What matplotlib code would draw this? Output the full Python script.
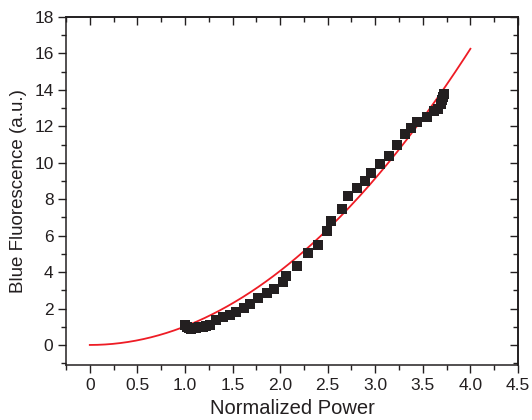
import numpy as np
import matplotlib
matplotlib.use("Agg")
import matplotlib.pyplot as plt
from matplotlib.ticker import MultipleLocator

plt.rcParams['font.family'] = ['Liberation Sans', 'DejaVu Sans']

# measured data
power = [1.00, 1.02, 1.04, 1.06, 1.08, 1.10, 1.12, 1.15, 1.19, 1.22, 1.26, 1.33, 1.40,
         1.47, 1.54, 1.62, 1.68, 1.77, 1.86, 1.94, 2.03, 2.06, 2.18, 2.29, 2.40,
         2.49, 2.54, 2.65, 2.71, 2.81, 2.89, 2.95, 3.05, 3.14, 3.23, 3.31, 3.38,
         3.44, 3.54, 3.62, 3.66, 3.69, 3.70, 3.71, 3.72]
fluor = [1.08, 1.00, 0.95, 0.90, 0.92, 0.93, 0.95, 0.97, 1.00, 1.05, 1.11, 1.38, 1.51,
         1.65, 1.83, 2.02, 2.25, 2.60, 2.84, 3.07, 3.47, 3.80, 4.35, 5.02, 5.50,
         6.24, 6.78, 7.47, 8.20, 8.60, 9.02, 9.44, 9.93, 10.38, 11.00, 11.56, 11.93,
         12.24, 12.51, 12.84, 12.93, 13.20, 13.47, 13.60, 13.75]

# fit curve parameters (y = a * x^n)
fit_a = 1.016
fit_n = 2.0
fit_x = np.linspace(0, 4.0, 200)
fit_y = fit_a * fit_x ** fit_n

fig = plt.figure(figsize=(5.32, 4.2), dpi=100)
ax = fig.add_axes([66/532, 1 - 365/420, (518 - 66)/532, (365 - 17)/420])

ax.plot(fit_x, fit_y, color='#ee1c25', lw=1.3, zorder=2)
ax.plot(power, fluor, 's', color='#231f20', markersize=6.8, markeredgewidth=0, zorder=3)

ax.set_xlim(-0.25, 4.5)
ax.set_ylim(-1.1, 18)
ax.xaxis.set_major_locator(MultipleLocator(0.5))
ax.xaxis.set_minor_locator(MultipleLocator(0.25))
ax.yaxis.set_major_locator(MultipleLocator(2))
ax.yaxis.set_minor_locator(MultipleLocator(1))
ax.set_xticks([0, 0.5, 1.0, 1.5, 2.0, 2.5, 3.0, 3.5, 4.0, 4.5])
ax.set_xticklabels(['0', '0.5', '1.0', '1.5', '2.0', '2.5', '3.0', '3.5', '4.0', '4.5'])
ax.set_yticks(range(0, 19, 2))
ax.set_yticklabels([str(v) for v in range(0, 19, 2)])

for s in ax.spines.values():
    s.set_linewidth(1.1)
    s.set_color('#231f20')

ax.tick_params(which='major', direction='out', length=6, width=1.0, labelsize=12.5,
               color='#231f20', labelcolor='#231f20', pad=3)
ax.tick_params(which='minor', direction='out', length=3.5, width=1.0, color='#231f20')
ax.tick_params(which='both', top=False, right=False)

# mirrored inward ticks on top and right
axt = ax.secondary_xaxis('top')
axt.xaxis.set_major_locator(MultipleLocator(0.5))
axt.xaxis.set_minor_locator(MultipleLocator(0.25))
axt.tick_params(which='major', direction='in', length=6, width=1.0, labeltop=False, color='#231f20')
axt.tick_params(which='minor', direction='in', length=3.5, width=1.0, color='#231f20')
axt.spines['top'].set_linewidth(1.1)
axr = ax.secondary_yaxis('right')
axr.yaxis.set_major_locator(MultipleLocator(2))
axr.yaxis.set_minor_locator(MultipleLocator(1))
axr.tick_params(which='major', direction='in', length=6, width=1.0, labelright=False, color='#231f20')
axr.tick_params(which='minor', direction='in', length=3.5, width=1.0, color='#231f20')
axr.spines['right'].set_linewidth(1.1)

ax.set_xlabel('Normalized Power', fontsize=14.5, color='#231f20', labelpad=5)
ax.set_ylabel('Blue Fluorescence (a.u.)', fontsize=13.5, color='#231f20', labelpad=5)

fig.savefig('out.png', dpi=100)
